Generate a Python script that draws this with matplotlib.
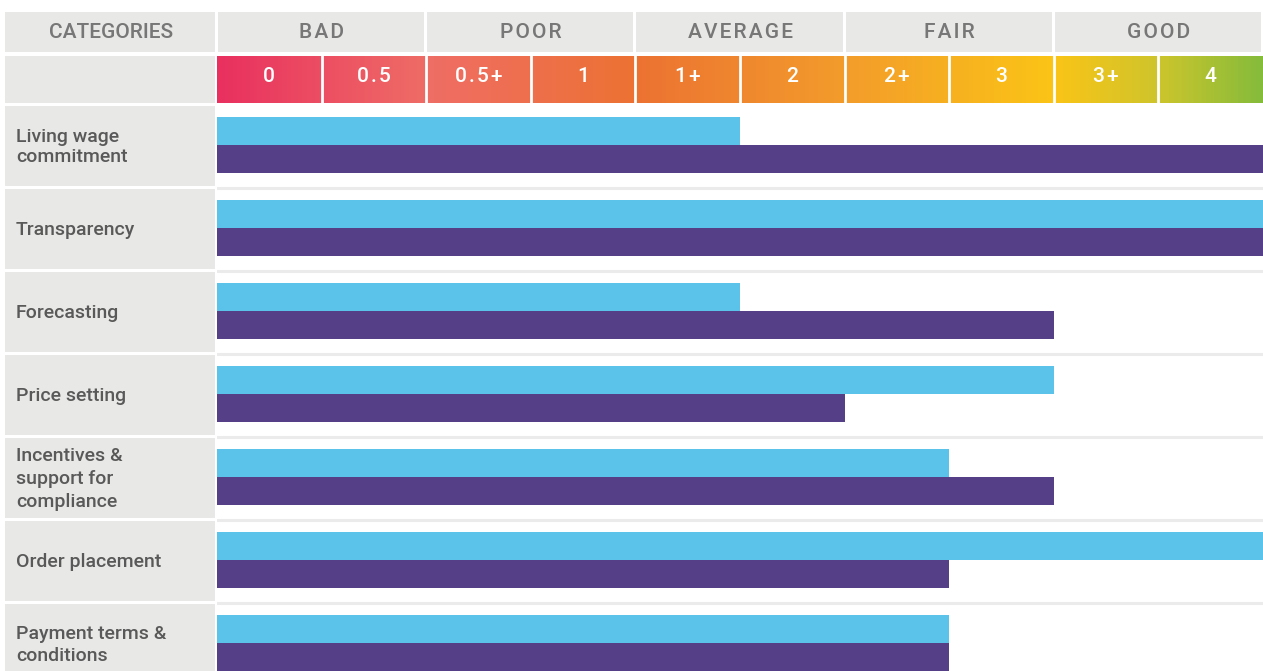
import matplotlib.pyplot as plt
import numpy as np
from matplotlib.colors import LinearSegmentedColormap

# rows, top to bottom
categories = ["Living wage\ncommitment", "Transparency", "Forecasting", "Price setting",
              "Incentives &\nsupport for\ncompliance", "Order placement", "Payment terms &\nconditions"]
# bar length measured in scale steps (0 .. 10 cells)
blue_vals = [5, 10, 5, 8, 7, 10, 7]
purple_vals = [10, 10, 8, 6, 8, 7, 7]

groups = ["BAD", "POOR", "AVERAGE", "FAIR", "GOOD"]
scale_labels = ["0", "0.5", "0.5+", "1", "1+", "2", "2+", "3", "3+", "4"]

BLUE = "#5bc2ea"
PURPLE = "#553f87"
GREY = "#e8e8e6"

plt.rcParams['font.family'] = ['Roboto', 'DejaVu Sans']

W, H = 1263, 671
fig = plt.figure(figsize=(W / 100, H / 100), dpi=100)

# decoration layer in pixel coords
deco = fig.add_axes([0, 0, 1, 1])
deco.set_xlim(0, W)
deco.set_ylim(H, 0)
deco.axis("off")

x0, x1 = 217, 1263
cell = (x1 - x0) / len(scale_labels)

# header row (letter-spaced with hair spaces)
deco.add_patch(plt.Rectangle((5, 12), 210, 40, color=GREY, lw=0))
deco.text(111, 32, "CATEGORIES", ha="center", va="center", fontsize=15,
          color="#777777", fontweight="medium")
for i, g in enumerate(groups):
    left = x0 + i * 2 * cell
    deco.add_patch(plt.Rectangle((left + 1, 12), 2 * cell - 3, 40, color=GREY, lw=0))
    deco.text(left + cell, 32, "\u200a".join(g), ha="center", va="center",
              fontsize=15, color="#777777", fontweight="medium")

# scale row with gradient
deco.add_patch(plt.Rectangle((5, 56), 210, 47, color=GREY, lw=0))
cmap = LinearSegmentedColormap.from_list("score", [
    (0.0, "#e9305f"), (0.2, "#ef6d66"), (0.4, "#ec7232"),
    (0.6, "#f39c2b"), (0.8, "#fbc416"), (0.9, "#cfc52c"), (1.0, "#85bc3b")])
grad = np.linspace(0, 1, 512).reshape(1, -1)
deco.imshow(grad, cmap=cmap, extent=(x0, x1, 103, 56), aspect="auto", zorder=1)
for i, lab in enumerate(scale_labels):
    if i > 0:
        deco.plot([x0 + i * cell] * 2, [55, 104], color="white", lw=2, zorder=2)
    deco.text(x0 + (i + 0.5) * cell, 77, "\u200a".join(lab), ha="center", va="center",
              fontsize=15, color="white", fontweight="medium", zorder=3)
deco.set_xlim(0, W)
deco.set_ylim(H, 0)

# row label cells
row_top, row_h = 106, 83
for i, c in enumerate(categories):
    top = row_top + i * row_h
    deco.add_patch(plt.Rectangle((5, top), 210, 80, color=GREY, lw=0))
    deco.text(16, top + 41, c, ha="left", va="center", fontsize=14,
              color="#595959", fontweight="medium",
              linespacing=1.1 if i == 0 else 1.35)

# bars axis: x in scale steps, y in rows
ax = fig.add_axes([x0 / W, 0, (x1 - x0) / W, (H - row_top) / H])
ax.set_xlim(0, len(scale_labels))
ax.set_ylim((H - row_top) / row_h, 0)
ax.axis("off")

y = np.arange(len(categories))
bh = 28 / row_h
ax.barh(y + 11 / row_h, blue_vals, height=bh, align="edge", color=BLUE, lw=0)
ax.barh(y + 39 / row_h, purple_vals, height=bh, align="edge", color=PURPLE, lw=0)
for i in range(len(categories)):
    ax.axhline(i + 81.5 / row_h, color="#ebebeb", lw=2.2, zorder=0)

fig.savefig("out.png", dpi=100)
